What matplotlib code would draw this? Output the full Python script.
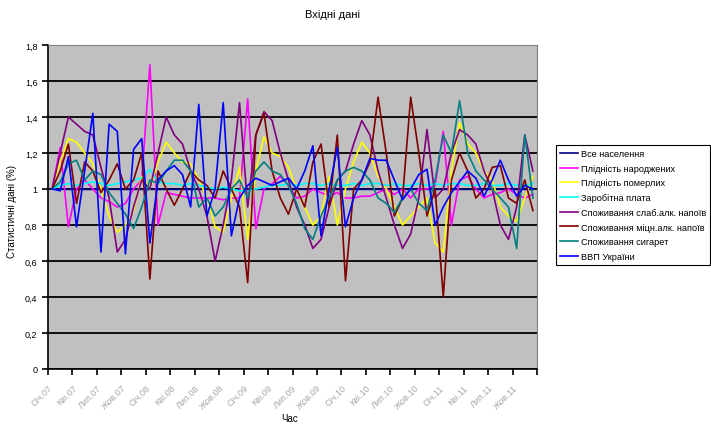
import matplotlib
matplotlib.use("Agg")
import matplotlib.pyplot as plt
from matplotlib.ticker import FuncFormatter, MultipleLocator

plt.rcParams['font.family'] = ['Liberation Sans', 'DejaVu Sans']

# Підписи місяців (кожен третій місяць, 2007-2011)
months = ["Січ", "Кві", "Лип", "Жов"]
years = ["07", "08", "09", "10", "11"]
tick_labels = [m + "." + y for y in years for m in months]

names = ["Все населення", "Плідність народжених", "Плідність померлих",
         "Заробітна плата", "Споживання слаб.алк. напоїв",
         "Споживання міцн.алк. напоїв", "Споживання сигарет", "ВВП України"]
colors = ["#000080", "#FF00FF", "#FFFF00", "#00FFFF",
          "#800080", "#800000", "#008080", "#0000FF"]

# 60 місячних значень для кожного ряду (оцінені з графіка)
vse_naselennia = [1.0] + [0.998] * 59

plidnist_narodzh = [1.0, 1.23, 0.79, 1.0, 1.05, 1.0, 0.95, 0.93, 0.9, 0.92,
                    1.0, 1.05, 1.69, 0.8, 0.98, 0.97, 0.96, 0.95, 0.95, 0.95,
                    0.95, 0.94, 0.95, 0.95, 1.5, 0.78, 1.0, 1.03, 1.07, 1.02,
                    0.95, 0.96, 1.0, 0.98, 0.96, 0.98, 0.95, 0.95, 0.96, 0.96,
                    0.98, 1.0, 0.97, 1.0, 0.95, 1.0, 1.0, 1.02, 1.32, 0.8,
                    1.05, 1.07, 1.0, 0.95, 0.97, 0.98, 1.0, 0.97, 0.95, 0.97]

plidnist_pomer = [1.0, 1.15, 1.28, 1.26, 1.2, 1.14, 1.0, 0.85, 0.76, 0.8,
                  0.88, 1.07, 1.0, 1.15, 1.26, 1.2, 1.15, 1.14, 1.05, 0.95,
                  0.79, 0.76, 0.95, 1.12, 0.72, 1.1, 1.29, 1.2, 1.18, 1.12,
                  1.0, 0.9, 0.8, 0.85, 1.07, 0.8, 1.0, 1.15, 1.26, 1.2,
                  1.07, 1.0, 0.9, 0.8, 0.85, 0.9, 0.95, 0.7, 0.65, 1.1,
                  1.37, 1.25, 1.2, 1.1, 1.05, 0.9, 0.85, 0.82, 0.95, 1.07]

zarplata = [1.0, 1.02, 1.03, 1.02, 1.03, 1.04, 1.03, 1.02, 1.03, 1.04,
            1.05, 1.06, 1.11, 1.04, 1.03, 1.03, 1.02, 1.03, 1.02, 1.01,
            1.0, 1.01, 1.0, 0.99, 0.99, 1.0, 1.01, 1.02, 1.02, 1.03,
            1.02, 1.03, 1.03, 1.02, 1.03, 1.02, 1.02, 1.03, 1.02, 1.03,
            1.03, 1.02, 1.03, 1.02, 1.02, 1.03, 1.02, 1.03, 1.02, 1.03,
            1.03, 1.02, 1.02, 1.03, 1.02, 1.02, 1.03, 1.02, 1.02, 1.03]

slab_alk = [1.0, 1.2, 1.4, 1.36, 1.32, 1.3, 1.12, 0.95, 0.65, 0.72,
            0.9, 1.05, 1.0, 1.2, 1.4, 1.3, 1.25, 1.1, 1.0, 0.85,
            0.6, 0.8, 1.05, 1.48, 0.9, 1.3, 1.43, 1.38, 1.2, 1.05,
            0.9, 0.8, 0.67, 0.72, 0.9, 1.05, 1.1, 1.25, 1.38, 1.3,
            1.1, 0.95, 0.8, 0.67, 0.75, 0.95, 1.33, 0.95, 1.0, 1.2,
            1.33, 1.3, 1.25, 1.1, 1.0, 0.8, 0.72, 0.9, 1.3, 1.1]

mitsn_alk = [1.0, 1.1, 1.25, 0.92, 1.15, 1.1, 0.98, 1.05, 1.14, 1.0,
             1.05, 1.2, 0.5, 1.1, 1.0, 0.91, 1.0, 1.1, 1.05, 1.02,
             0.95, 1.1, 1.0, 0.9, 0.48, 1.3, 1.42, 1.1, 0.95, 0.86,
             1.0, 0.9, 1.15, 1.25, 0.9, 1.3, 0.49, 1.0, 1.05, 1.15,
             1.51, 1.2, 0.85, 0.95, 1.51, 1.2, 0.85, 1.0, 0.4, 1.05,
             1.2, 1.1, 0.95, 1.0, 1.12, 1.13, 0.95, 0.92, 1.05, 0.88]

sygarety = [1.0, 1.04, 1.14, 1.16, 1.05, 1.1, 1.08, 0.98, 0.92, 0.86,
            0.78, 0.9, 1.05, 1.03, 1.1, 1.16, 1.16, 1.1, 0.9, 0.95,
            0.85, 0.9, 1.0, 1.05, 0.95, 1.1, 1.15, 1.1, 1.08, 1.02,
            0.92, 0.78, 0.72, 0.85, 0.95, 1.05, 1.1, 1.12, 1.1, 1.05,
            0.95, 0.92, 0.87, 0.95, 1.0, 0.92, 0.88, 1.05, 1.3, 1.2,
            1.49, 1.2, 1.1, 1.05, 1.0, 0.95, 0.9, 0.67, 1.3, 0.95]

vvp = [1.0, 0.99, 1.18, 0.79, 1.1, 1.42, 0.65, 1.36, 1.32, 0.64,
       1.22, 1.28, 0.7, 1.05, 1.1, 1.13, 1.08, 0.9, 1.47, 0.85,
       1.0, 1.48, 0.74, 0.95, 1.02, 1.06, 1.04, 1.02, 1.04, 1.06,
       1.0, 1.1, 1.24, 0.74, 1.0, 1.23, 0.79, 0.95, 1.05, 1.17,
       1.16, 1.16, 1.05, 0.94, 1.0, 1.08, 1.11, 0.8, 0.9, 0.98,
       1.04, 1.1, 1.06, 0.96, 1.05, 1.16, 1.05, 0.96, 1.02, 1.0]

series = [vse_naselennia, plidnist_narodzh, plidnist_pomer, zarplata,
          slab_alk, mitsn_alk, sygarety, vvp]

fig = plt.figure(figsize=(7.11, 4.27), dpi=100)
ax = fig.add_axes([48 / 711, 57 / 427, 489 / 711, 324 / 427])
ax.set_facecolor("#c0c0c0")

x = [i + 0.5 for i in range(60)]
for vals, name, c in zip(series, names, colors):
    ax.plot(x, vals, color=c, lw=1.2, label=name)

ax.set_xlim(0, 60)
ax.set_ylim(0, 1.8)
ax.yaxis.set_major_locator(MultipleLocator(0.2))
ax.yaxis.set_major_formatter(FuncFormatter(lambda v, p: ("%g" % round(v, 1)).replace(".", ",")))
ax.grid(axis="y", color="black", lw=1.3)
ax.set_axisbelow(True)

ax.set_xticks(range(0, 61, 3))
ax.set_xticklabels(tick_labels + [""], rotation=45, ha="right",
                   rotation_mode="anchor", fontsize=6.5, color="#a8a8a8")
ax.tick_params(axis="x", length=4, width=1.2, pad=6)
ax.tick_params(axis="y", length=4, width=1.2, labelsize=6.5)

for s in ["top", "right"]:
    ax.spines[s].set_color("#808080")
for s in ["left", "bottom"]:
    ax.spines[s].set_color("black")
    ax.spines[s].set_linewidth(1.2)

fig.text(0.468, 0.965, "Вхідні дані", ha="center", va="center", fontsize=8)
fig.text(0.017, 0.505, "Статистичні дані (%)", rotation=90, ha="center",
         va="center", fontsize=7)
fig.text(0.408, 0.018, "Час", ha="center", va="center", fontsize=7)

leg = ax.legend(loc="upper left", bbox_to_anchor=(556 / 711, 1 - 146 / 427),
                bbox_transform=fig.transFigure, fontsize=6.6, frameon=True,
                fancybox=False, edgecolor="black", framealpha=1,
                handlelength=2.0, handletextpad=0.25, labelspacing=0.62,
                borderpad=0.45, borderaxespad=0)
leg.get_frame().set_linewidth(0.8)

fig.savefig("out.png", dpi=100)
